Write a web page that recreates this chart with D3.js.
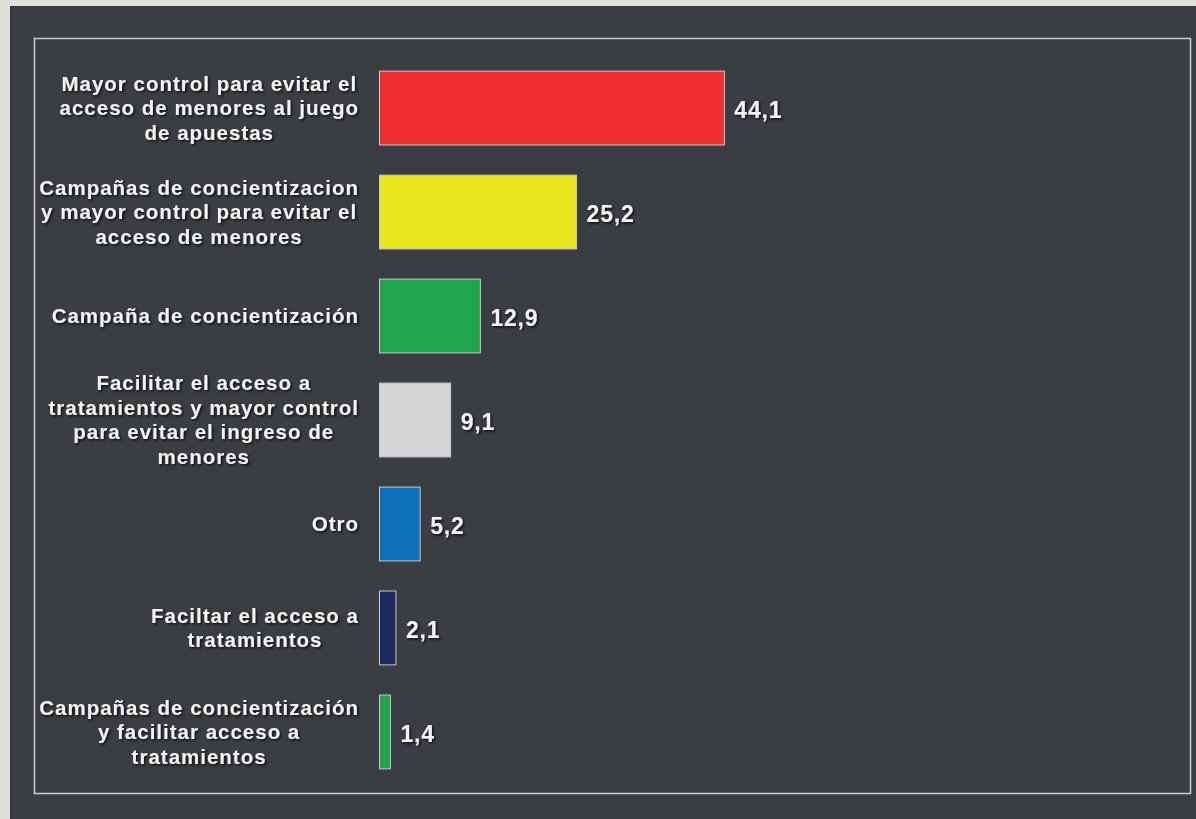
<!DOCTYPE html>
<meta charset='utf-8'>
<head>
  <title>Medidas preferidas</title>
  <style>
    html, body { margin: 0; padding: 0; background: #e1e1db; }
    svg { display: block; }
    text { font-family: 'Liberation Sans', Arial, sans-serif; font-weight: bold; }
  </style>
</head>
<body>
  <div id='chart'></div>
</body>
<script src='https://cdnjs.cloudflare.com/ajax/libs/d3/7.8.5/d3.min.js'></script>
<script>

var categories = [
  'Mayor control para evitar el\nacceso de menores al juego\nde apuestas',
  'Campañas de concientizacion\ny mayor control para evitar el\nacceso de menores',
  'Campaña de concientización',
  'Facilitar el acceso a\ntratamientos y mayor control\npara evitar el ingreso de\nmenores',
  'Otro',
  'Faciltar el acceso a\ntratamientos',
  'Campañas de concientización\ny facilitar acceso a\ntratamientos'
];
var values = [44.1, 25.2, 12.9, 9.1, 5.2, 2.1, 1.4];
var valueLabels = ['44,1', '25,2', '12,9', '9,1', '5,2', '2,1', '1,4'];
var barColors = ['#ee2e2f', '#ebe61e', '#1fa54b', '#d4d5d5', '#0e72bb', '#1a2a5c', '#1fa54b'];

var width = 1196,
    height = 819;

var svg = d3.select('#chart').append('svg')
    .attr('width', width)
    .attr('height', height);

var defs = svg.append('defs');
defs.append('filter')
    .attr('id', 'shadow')
    .attr('x', '-10%').attr('y', '-20%')
    .attr('width', '120%').attr('height', '150%')
  .append('feDropShadow')
    .attr('dx', 1.5).attr('dy', 1.5)
    .attr('stdDeviation', 1)
    .attr('flood-color', '#000')
    .attr('flood-opacity', 0.75);

// dark panel
svg.append('rect')
    .attr('x', 10).attr('y', 6)
    .attr('width', width - 10).attr('height', height - 6)
    .style('fill', '#3a3d41');
svg.append('line')
    .attr('x1', 10.5).attr('x2', 10.5)
    .attr('y1', 6).attr('y2', height)
    .style('stroke', '#2e3033');

// inner frame
svg.append('rect')
    .attr('x', 34.5).attr('y', 38.5)
    .attr('width', 1156).attr('height', 755)
    .style('fill', 'none')
    .style('stroke', '#cfcfcf')
    .style('stroke-width', 1.5);

var x = d3.scaleLinear()
    .domain([0, 50])
    .range([379.5, 770.5]);

var y = d3.scaleBand()
    .domain(d3.range(categories.length))
    .range([41, 799])
    .padding(0.29);

var bars = svg.selectAll('g.bar')
    .data(values)
  .enter().append('g')
    .attr('class', 'bar');

bars.append('rect')
    .attr('x', x(0))
    .attr('y', function(d, i) { return y(i); })
    .attr('width', function(d) { return x(d) - x(0); })
    .attr('height', y.bandwidth())
    .style('fill', function(d, i) { return barColors[i]; })
    .style('stroke', '#c8c8c8')
    .style('stroke-width', 1);

bars.append('text')
    .attr('x', function(d) { return x(d) + 10; })
    .attr('y', function(d, i) { return y(i) + y.bandwidth() / 2 + 2; })
    .attr('dy', '0.35em')
    .style('font-size', '23px')
    .style('letter-spacing', '0.8px')
    .style('fill', '#f2f2f2')
    .attr('filter', 'url(#shadow)')
    .text(function(d, i) { return valueLabels[i]; });

// category labels: lines centred inside a block that is right aligned
var lineH = 24.5,
    labelRight = 359;

categories.forEach(function(c, i) {
  var lines = c.split('\n');
  var g = svg.append('g').attr('filter', 'url(#shadow)');
  var cy = y(i) + y.bandwidth() / 2;
  var texts = lines.map(function(l, j) {
    return g.append('text')
        .attr('y', cy + (j - (lines.length - 1) / 2) * lineH)
        .attr('dy', '0.35em')
        .attr('text-anchor', 'middle')
        .style('font-size', '20.5px')
        .style('letter-spacing', '1px')
        .style('fill', '#f2f2f2')
        .text(l);
  });
  var maxW = d3.max(texts, function(t) { return t.node().getComputedTextLength(); });
  texts.forEach(function(t) { t.attr('x', labelRight - maxW / 2); });
});

</script>
